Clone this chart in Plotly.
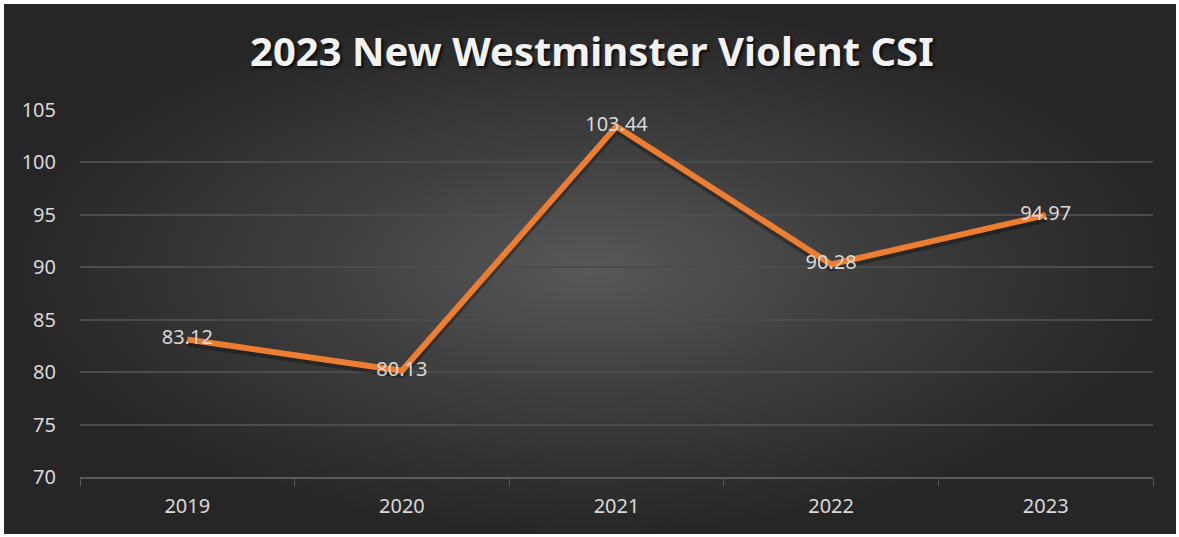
import plotly.graph_objects as go

# ---- data ----
years = ["2019", "2020", "2021", "2022", "2023"]
violent_csi = [83.12, 80.13, 103.44, 90.28, 94.97]
y_ticks = [70, 75, 80, 85, 90, 95, 100, 105]
title_text = "2023 New Westminster Violent CSI"

W, H = 1179, 537
label_color = "#d9d9d9"
font_family = "Noto Sans, Open Sans, DejaVu Sans, sans-serif"

fig = go.Figure()

# background panel with radial gradient (on full-page helper axes)
fig.add_trace(go.Scatter(
    x=[4, 1176, 1176, 4, 4], y=[4, 4, 534, 534, 4],
    mode="lines", line=dict(width=0), fill="toself",
    fillgradient=dict(type="radial",
                      colorscale=[[0, "#585858"], [0.45, "#3f3f3f"], [1, "#262626"]]),
    hoverinfo="skip", showlegend=False, xaxis="x", yaxis="y",
))

# shadow of the line
fig.add_trace(go.Scatter(
    x=years, y=[v - 0.3 for v in violent_csi], mode="lines",
    line=dict(color="rgba(0,0,0,0.3)", width=8),
    hoverinfo="skip", showlegend=False, xaxis="x2", yaxis="y2",
))

# main line with centered data labels
fig.add_trace(go.Scatter(
    x=years, y=violent_csi, mode="lines+text",
    line=dict(color="#ED7D31", width=6),
    text=[f"{v:.2f}" for v in violent_csi], textposition="middle center",
    textfont=dict(color=label_color, size=20, family=font_family),
    hoverinfo="skip", showlegend=False, xaxis="x2", yaxis="y2",
))

x0, x1 = 80 / W, 1153 / W
y0, y1 = 1 - 477 / H, 1 - 110 / H

fig.update_layout(
    width=W, height=H, autosize=False,
    margin=dict(l=0, r=0, t=0, b=0, pad=0, autoexpand=False),
    paper_bgcolor="white", plot_bgcolor="rgba(0,0,0,0)",
    xaxis=dict(domain=[0, 1], range=[0, W], visible=False, fixedrange=True),
    yaxis=dict(domain=[0, 1], range=[H, 0], visible=False, fixedrange=True),
    xaxis2=dict(domain=[x0, x1], anchor="y2", type="category", automargin=False,
                tickson="boundaries", ticks="outside", ticklen=7, tickcolor="#5a5a5a",
                showline=True, linecolor="#5a5a5a", linewidth=1.5,
                showgrid=False, range=[-0.5, 4.5], ticklabelstandoff=10,
                tickfont=dict(color=label_color, size=20, family=font_family)),
    yaxis2=dict(domain=[y0, y1], anchor="x2", range=[70, 105], automargin=False,
                tickvals=y_ticks, showgrid=True, gridcolor="#4c4c4c", gridwidth=1.5,
                zeroline=False, showline=False, ticks="", ticklabelstandoff=23,
                tickfont=dict(color=label_color, size=20, family=font_family)),
    annotations=[dict(
        text=f"<b>{title_text}</b>", x=592 / W, y=1 - 50 / H,
        xref="paper", yref="paper", xanchor="center", yanchor="middle",
        showarrow=False,
        font=dict(color="#f2f2f2", size=40, family=font_family,
                  shadow="2px 2px 3px rgba(0,0,0,0.8)"),
    )],
)

fig.write_html("out.html", config={"displayModeBar": False},
               post_script="document.body.style.margin='0';")
